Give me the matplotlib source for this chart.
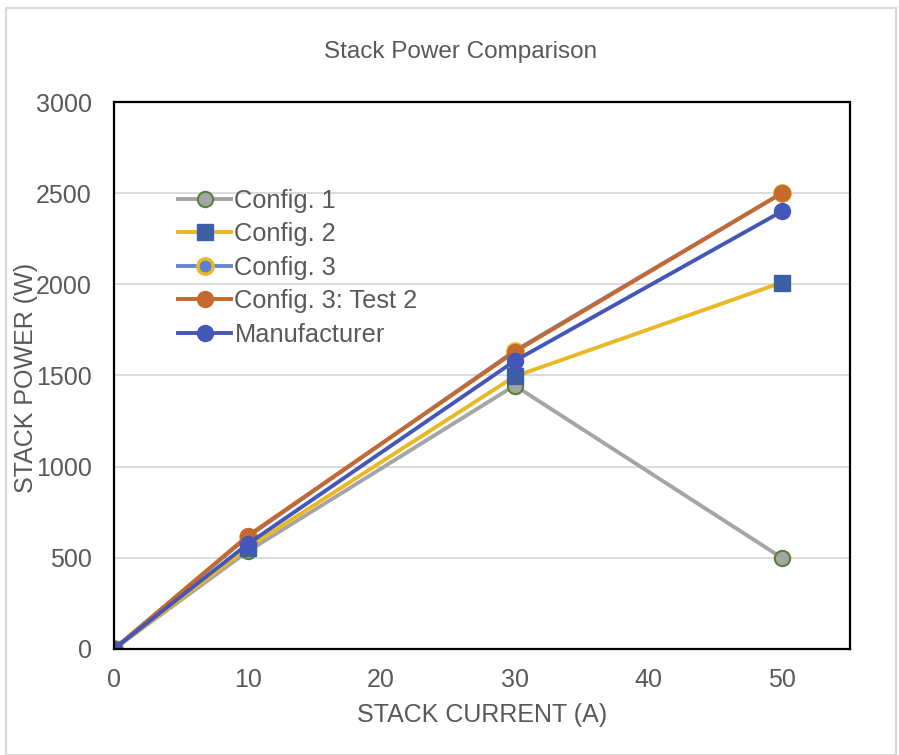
import matplotlib.pyplot as plt

plt.rcParams['font.family'] = ['Liberation Sans', 'DejaVu Sans']

# stack current (A)
current = [0, 10, 30, 50]

# stack power (W) per configuration
config1 = [0, 535, 1445, 500]
config2 = [0, 555, 1495, 2010]
config3 = [0, 615, 1635, 2500]
config3_test2 = [0, 620, 1630, 2500]
manufacturer = [0, 575, 1580, 2400]

fig = plt.figure(figsize=(8.99, 7.55), dpi=100)
ax = fig.add_axes([0.1268, 0.1404, 0.8187, 0.7245])

ax.plot(current, config1, color='#a5a5a5', lw=2.8, marker='o', ms=11,
        mfc='#a5a5a5', mec='#548235', mew=1.5, label='Config. 1')
ax.plot(current, config2, color='#e9b824', lw=2.8, marker='s', ms=11,
        mfc='#3d5fa6', mec='#3d5fa6', label='Config. 2')
ax.plot(current, config3, color='#6688d0', lw=2.8, marker='o', ms=11,
        mfc='#5b7fd0', mec='#e9b824', mew=2.5, label='Config. 3')
ax.plot(current, config3_test2, color='#c5692e', lw=2.8, marker='o', ms=11.5,
        mfc='#c5692e', mec='#c5692e', label='Config. 3: Test 2')
ax.plot(current, manufacturer, color='#4456b7', lw=2.8, marker='o', ms=11.5,
        mfc='#4456b7', mec='#4456b7', label='Manufacturer')

ax.set_xlim(0, 55.1)
ax.set_ylim(0, 3000)
ax.set_xticks([0, 10, 20, 30, 40, 50])
ax.set_yticks(range(0, 3001, 500))
ax.grid(axis='y', color='#d9d9d9', lw=1.3)
ax.set_axisbelow(True)
for s in ax.spines.values():
    s.set_color('black')
    s.set_linewidth(1.6)
ax.tick_params(length=0, labelsize=18, labelcolor='#595959')
ax.tick_params(axis='x', pad=14)
ax.tick_params(axis='y', pad=16)

# axis titles and chart title
fig.text(0.536, 0.053, 'STACK CURRENT (A)', ha='center', va='center',
         fontsize=18, color='#595959')
fig.text(0.029, 0.5, 'STACK POWER (W)', ha='center', va='center',
         rotation=90, fontsize=18, color='#595959')
fig.text(0.512, 0.931, 'Stack Power Comparison', ha='center', va='center',
         fontsize=17.5, color='#595959')

ax.legend(loc='upper left', bbox_to_anchor=(0.087, 0.841), frameon=False,
          fontsize=18.3, labelcolor='#595959', handlelength=2.1,
          handletextpad=0.12, labelspacing=0.37, borderpad=0,
          borderaxespad=0.0)

# chart border
fig.patches.append(plt.Rectangle((0.0065, 0.0), 0.99, 0.99, transform=fig.transFigure,
                                 fill=False, ec='#d9d9d9', lw=1.5))

fig.savefig('out.png', dpi=100)
